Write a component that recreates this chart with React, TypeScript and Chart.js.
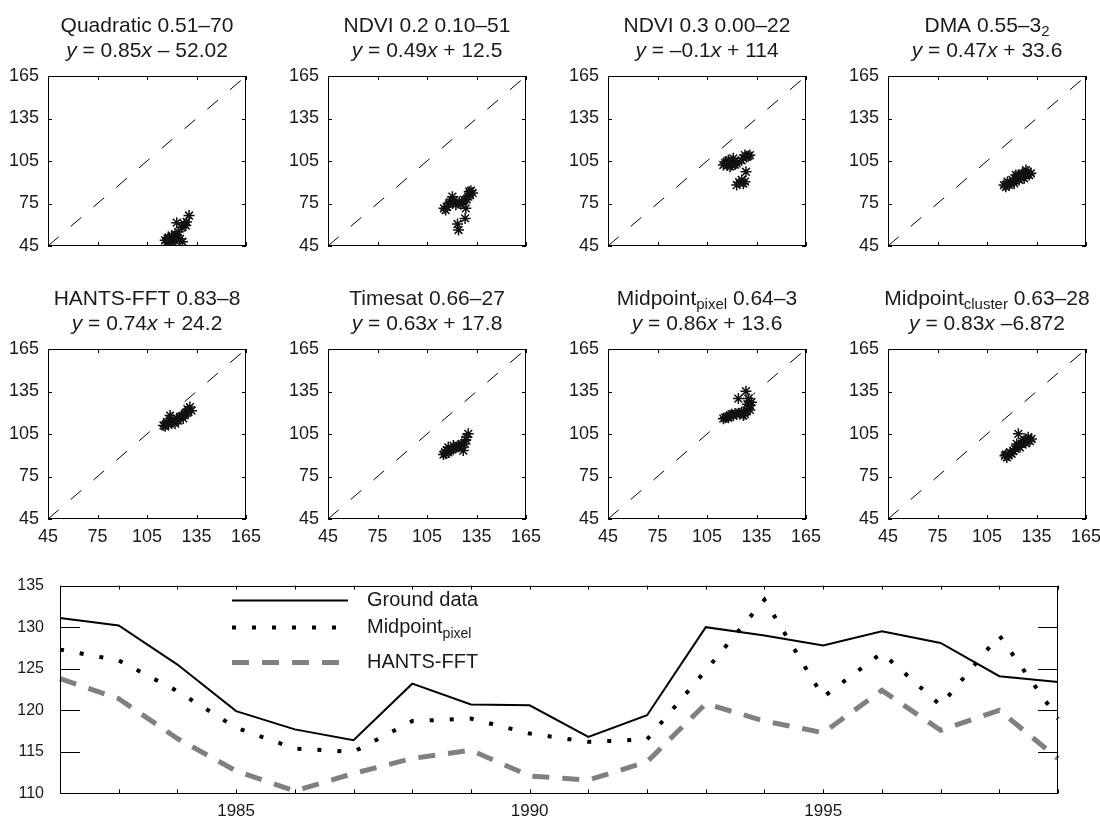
import React, { useEffect, useRef } from 'react';
import { Chart, registerables } from 'chart.js';

Chart.register(...registerables);

const FONT = '"Liberation Sans", Arial, Helvetica, sans-serif';
const TEXT = '#1a1a1a';

// ---------- data ----------
const SCATTER_TICKS = [45, 75, 105, 135, 165];
const ONE_TO_ONE = [45, 165];

const QUADRATIC_PTS = [
  [130.5, 66.5], [129, 62], [128.5, 59.5], [127.5, 60.5], [126, 58], [123, 61.5], [124, 55], [122, 53],
  [121, 51], [120, 52.5], [119, 50], [118, 48.5], [117, 47.5], [116, 49], [120, 48], [122, 49], [126.5, 48], [125, 50],
  [118, 51], [119.5, 49], [121.5, 50.5], [117.5, 50], [123, 50],
];
const NDVI02_PTS = [
  [115.3, 71.6], [116.3, 70.4], [118.4, 75.1], [120.4, 79.8], [122.5, 74], [124.5, 76.3], [125.5, 74.5], [127.5, 77.5],
  [130, 79.8], [130.6, 83.3], [131.6, 84], [132.6, 82.5], [128.5, 71.6], [128.1, 64.5], [123.5, 60.5], [124.1, 56.3],
  [117, 72.5], [119, 76], [121, 77], [126.5, 76], [129, 78], [131, 81],
];
const NDVI03_PTS = [
  [114.9, 102.2], [116.9, 104.5], [118, 105.5], [119, 101], [119.9, 102.2], [120.9, 106.9], [123, 103.4], [126, 105.5],
  [128, 109.2], [129, 107.9], [131, 109.2], [128.6, 97.4], [126, 91.6], [123, 88], [128, 90.4],
  [116, 103.5], [117.5, 102], [118.5, 104], [121.5, 104.5], [122, 102.5], [127, 107], [130, 108.5], [124.5, 90], [127, 89],
];
const DMA_PTS = [
  [115.3, 88], [116.4, 86.8], [117.4, 90.4], [118.4, 88], [120.4, 91.6], [121.5, 89.2], [122.5, 95.1], [123.5, 93.9],
  [124.5, 91.6], [126.5, 96.3], [127.5, 92.7], [128.6, 98.6], [129.6, 97.4], [130.6, 95.1], [131.6, 96.3],
  [119, 89.5], [121, 90.5], [123, 92.5], [125, 94], [126, 93.5], [128, 95.5], [129, 96], [117, 88.5], [124, 95],
];
const HANTS_PTS = [
  [115, 111], [116, 110.5], [117, 113.4], [119, 118], [120, 114.6], [122, 112.3], [123, 116], [125, 117],
  [127, 116], [128, 119.4], [130, 120.5], [131, 124], [132, 121.5],
  [118, 112.5], [121, 113.5], [124, 114.5], [126, 117.5], [129, 120], [118, 111.5], [129.5, 122.5],
];
const TIMESAT_PTS = [
  [115, 90.5], [115.9, 92.1], [117.9, 95.6], [119, 93.3], [121, 96.8], [123, 95.6], [124, 96.8], [126, 98],
  [127, 93.3], [128, 98], [129, 102.7], [130, 105.1],
  [116.5, 91], [118, 92], [120, 94.5], [122, 95], [125, 96.5], [128.5, 101], [117, 93.5],
];
const MID_PIXEL_PTS = [
  [114.9, 115.8], [117, 117], [119, 118.2], [120, 119], [122, 119.4], [126, 120.5], [127, 118], [128, 119],
  [129, 121.7], [131, 125.3], [132, 127.5], [130, 130], [124, 130], [128.6, 135.2],
  [116, 116.5], [118, 116.5], [121, 118], [123, 119], [125, 119.5], [130, 123], [129.5, 126], [131, 122],
];
const MID_CLUSTER_PTS = [
  [115.9, 89.7], [117, 88.5], [119, 92.1], [120, 91], [122, 94.5], [123, 98], [124, 105.1], [125, 95.6],
  [126, 98], [128, 100.4], [130, 102.7], [132, 101.5],
  [116.5, 90.5], [118, 90], [121, 93], [124, 96.5], [127, 99.5], [129, 101], [131, 100], [128.5, 98.5],
];

const YEARS = ['1982', '1983', '1984', '1985', '1986', '1987', '1988', '1989', '1990',
  '1991', '1992', '1993', '1994', '1995', '1996', '1997', '1998', '1999'];
const LABELED_YEARS = ['1985', '1990', '1995'];
const GROUND = [131.1, 130.2, 125.5, 119.9, 117.7, 116.4, 123.2, 120.7, 120.6, 116.8, 119.4, 130.0, 129.0, 127.8, 129.5, 128.1, 124.1, 123.4];
const MID_PIXEL = [127.3, 126.0, 122.3, 117.9, 115.4, 115.0, 118.7, 119.0, 117.2, 116.2, 116.5, 124.8, 133.3, 121.6, 126.9, 120.6, 129.0, 119.0];
const HANTS_FFT = [123.8, 121.4, 116.6, 112.7, 110.3, 112.4, 114.2, 115.2, 112.1, 111.6, 113.8, 120.8, 118.7, 117.3, 122.4, 117.6, 120.0, 114.2];
const LINE_TICKS_Y = [110, 115, 120, 125, 130, 135];

type Seg = { t: string; i?: boolean; s?: boolean };

const PANELS: { title: Seg[][]; pts: number[][] }[] = [
  { title: [[{ t: 'Quadratic 0.51–70' }], [{ t: 'y', i: true }, { t: ' = 0.85' }, { t: 'x', i: true }, { t: ' – 52.02' }]], pts: QUADRATIC_PTS },
  { title: [[{ t: 'NDVI 0.2 0.10–51' }], [{ t: 'y', i: true }, { t: ' = 0.49' }, { t: 'x', i: true }, { t: ' + 12.5' }]], pts: NDVI02_PTS },
  { title: [[{ t: 'NDVI 0.3 0.00–22' }], [{ t: 'y', i: true }, { t: ' = –0.1' }, { t: 'x', i: true }, { t: ' + 114' }]], pts: NDVI03_PTS },
  { title: [[{ t: 'DMA 0.55–3' }, { t: '2', s: true }], [{ t: 'y', i: true }, { t: ' = 0.47' }, { t: 'x', i: true }, { t: ' + 33.6' }]], pts: DMA_PTS },
  { title: [[{ t: 'HANTS-FFT 0.83–8' }], [{ t: 'y', i: true }, { t: ' = 0.74' }, { t: 'x', i: true }, { t: ' + 24.2' }]], pts: HANTS_PTS },
  { title: [[{ t: 'Timesat 0.66–27' }], [{ t: 'y', i: true }, { t: ' = 0.63' }, { t: 'x', i: true }, { t: ' + 17.8' }]], pts: TIMESAT_PTS },
  { title: [[{ t: 'Midpoint' }, { t: 'pixel', s: true }, { t: ' 0.64–3' }], [{ t: 'y', i: true }, { t: ' = 0.86' }, { t: 'x', i: true }, { t: ' + 13.6' }]], pts: MID_PIXEL_PTS },
  { title: [[{ t: 'Midpoint' }, { t: 'cluster', s: true }, { t: ' 0.63–28' }], [{ t: 'y', i: true }, { t: ' = 0.83' }, { t: 'x', i: true }, { t: ' –6.872' }]], pts: MID_CLUSTER_PTS },
];

// ---------- layout ----------
const PLOT_LEFT = [48, 328, 608, 888];
const PLOT_W = 198;
const PLOT_TOP = [76, 349];
const PLOT_H = 170;
const PAD_L = 45, PAD_T = 70, PAD_R = 25, PAD_B = 35;

function drawSegs(ctx: CanvasRenderingContext2D, segs: Seg[], cx: number, cy: number, size: number, subSize: number, subShift: number) {
  const fontFor = (s: Seg) => `${s.i ? 'italic ' : ''}${s.s ? subSize : size}px ${FONT}`;
  let w = 0;
  segs.forEach((s) => { ctx.font = fontFor(s); w += ctx.measureText(s.t).width; });
  let x = cx - w / 2;
  segs.forEach((s) => {
    ctx.font = fontFor(s);
    ctx.fillText(s.t, x, cy + (s.s ? subShift : 0));
    x += ctx.measureText(s.t).width;
  });
}

function makeTitlePlugin(lines: Seg[][]) {
  return {
    id: 'panelTitle',
    afterDraw(chart: any) {
      const { ctx, chartArea } = chart;
      const cx = (chartArea.left + chartArea.right) / 2;
      ctx.save();
      ctx.fillStyle = TEXT;
      ctx.textBaseline = 'middle';
      ctx.textAlign = 'left';
      const offsets = [-50, -25];
      lines.forEach((segs, li) => drawSegs(ctx, segs, cx, chartArea.top + offsets[li], 21, 15, 6));
      ctx.restore();
    },
  };
}

function makeFramePlugin(xLen: number, yLen: number) {
  return {
    id: 'frameTicks',
    afterDraw(chart: any) {
      const { ctx, chartArea: a, scales } = chart;
      ctx.save();
      ctx.strokeStyle = '#000';
      ctx.lineWidth = 1;
      ctx.setLineDash([]);
      ctx.strokeRect(Math.round(a.left) + 0.5, Math.round(a.top) + 0.5, Math.round(a.width) - 1, Math.round(a.height) - 1);
      ctx.beginPath();
      scales.x.ticks.forEach((_t: any, i: number) => {
        const px = Math.round(scales.x.getPixelForTick(i)) + 0.5;
        ctx.moveTo(px, a.bottom); ctx.lineTo(px, a.bottom - xLen);
        ctx.moveTo(px, a.top); ctx.lineTo(px, a.top + xLen);
      });
      scales.y.ticks.forEach((_t: any, i: number) => {
        const py = Math.round(scales.y.getPixelForTick(i)) + 0.5;
        ctx.moveTo(a.left, py); ctx.lineTo(a.left + yLen, py);
        ctx.moveTo(a.right, py); ctx.lineTo(a.right - yLen, py);
      });
      ctx.stroke();
      ctx.restore();
    },
  };
}

function makeLegendPlugin() {
  return {
    id: 'lineLegend',
    afterDatasetsDraw(chart: any) {
      const { ctx, chartArea: a } = chart;
      const x0 = a.left + 172, x1 = a.left + 288, tx = a.left + 307;
      const rows = [
        { y: a.top + 15, color: '#000', width: 2, dash: [] as number[], segs: [{ t: 'Ground data' }] as Seg[] },
        { y: a.top + 42, color: '#000', width: 4, dash: [4, 16], segs: [{ t: 'Midpoint' }, { t: 'pixel', s: true }] as Seg[] },
        { y: a.top + 77, color: '#808080', width: 5, dash: [17, 13], segs: [{ t: 'HANTS-FFT' }] as Seg[] },
      ];
      ctx.save();
      rows.forEach((r) => {
        ctx.beginPath();
        ctx.strokeStyle = r.color;
        ctx.lineWidth = r.width;
        ctx.lineCap = 'butt';
        ctx.setLineDash(r.dash);
        ctx.moveTo(x0, r.y);
        ctx.lineTo(x1, r.y);
        ctx.stroke();
        ctx.setLineDash([]);
        ctx.fillStyle = TEXT;
        ctx.textBaseline = 'middle';
        ctx.textAlign = 'left';
        let w = 0;
        const fontFor = (s: Seg) => `${s.s ? 14 : 20}px ${FONT}`;
        r.segs.forEach((s) => { ctx.font = fontFor(s); w += ctx.measureText(s.t).width; });
        drawSegs(ctx, r.segs, tx + w / 2, r.y, 20, 14, 7);
      });
      ctx.restore();
    },
  };
}

function ScatterPanel({ idx }: { idx: number }) {
  const ref = useRef<HTMLCanvasElement | null>(null);
  const col = idx % 4;
  const row = Math.floor(idx / 4);
  const left = PLOT_LEFT[col] - PAD_L;
  const top = PLOT_TOP[row] - PAD_T;
  const width = PLOT_W + PAD_L + PAD_R;
  const height = PLOT_H + PAD_T + PAD_B;
  useEffect(() => {
    if (!ref.current) return;
    const p = PANELS[idx];
    const tickFont = { size: 18, family: FONT };
    const chart = new Chart(ref.current, {
      type: 'scatter',
      data: {
        datasets: [
          {
            data: p.pts.map(([x, y]) => ({ x, y })),
            pointStyle: 'star',
            pointRadius: 5.5,
            borderColor: '#111',
            backgroundColor: '#111',
            borderWidth: 1.5,
          },
          {
            data: ONE_TO_ONE.map((v) => ({ x: v, y: v })),
            showLine: true,
            borderColor: '#000',
            borderWidth: 1,
            borderDash: [14, 16],
            pointRadius: 0,
            fill: false,
          },
        ],
      },
      options: {
        animation: false,
        responsive: false,
        events: [],
        layout: { padding: { left: 5, top: PAD_T, right: PAD_R, bottom: 0 } },
        plugins: { legend: { display: false }, tooltip: { enabled: false } },
        scales: {
          x: {
            type: 'linear',
            min: 45,
            max: 165,
            afterBuildTicks: (s: any) => { s.ticks = SCATTER_TICKS.map((v) => ({ value: v })); },
            afterFit: (s: any) => { s.height = PAD_B; },
            ticks: { display: row === 1, font: tickFont, color: TEXT, padding: 7, maxRotation: 0 },
            grid: { display: false, drawTicks: false },
            border: { display: false },
          },
          y: {
            type: 'linear',
            min: 45,
            max: 165,
            afterBuildTicks: (s: any) => { s.ticks = SCATTER_TICKS.map((v) => ({ value: v })); },
            afterFit: (s: any) => { s.width = PAD_L - 5; },
            ticks: { font: tickFont, color: TEXT, padding: 9 },
            grid: { display: false, drawTicks: false },
            border: { display: false },
          },
        },
      },
      plugins: [makeFramePlugin(4, 4), makeTitlePlugin(p.title)],
    } as any);
    return () => chart.destroy();
  }, [idx]);
  return (
    <canvas
      ref={ref}
      width={width}
      height={height}
      style={{ position: 'absolute', left, top, width, height }}
    />
  );
}

function LinePanel() {
  const ref = useRef<HTMLCanvasElement | null>(null);
  const left = 0, top = 560, width = 1100, height = 259;
  useEffect(() => {
    if (!ref.current) return;
    const chart = new Chart(ref.current, {
      type: 'line',
      data: {
        labels: YEARS,
        datasets: [
          { label: 'Ground data', data: GROUND, borderColor: '#000', borderWidth: 2, pointRadius: 0, tension: 0, fill: false },
          { label: 'Midpoint pixel', data: MID_PIXEL, borderColor: '#000', borderWidth: 4, borderDash: [4, 16], borderCapStyle: 'butt', pointRadius: 0, tension: 0, fill: false },
          { label: 'HANTS-FFT', data: HANTS_FFT, borderColor: '#808080', borderWidth: 5, borderDash: [17, 13], borderCapStyle: 'butt', pointRadius: 0, tension: 0, fill: false },
        ],
      },
      options: {
        animation: false,
        responsive: false,
        events: [],
        layout: { padding: { left: 10, top: 22, right: 42, bottom: 0 } },
        plugins: { legend: { display: false }, tooltip: { enabled: false } },
        scales: {
          x: {
            type: 'category',
            offset: false,
            afterFit: (s: any) => { s.height = 23; },
            ticks: {
              autoSkip: false,
              maxRotation: 0,
              font: { size: 17, family: FONT },
              color: TEXT,
              padding: 8,
              callback: (_v: any, i: number) => (LABELED_YEARS.includes(YEARS[i]) ? YEARS[i] : ''),
            },
            grid: { display: false, drawTicks: false },
            border: { display: false },
          },
          y: {
            type: 'linear',
            min: 110,
            max: 135,
            afterBuildTicks: (s: any) => { s.ticks = LINE_TICKS_Y.map((v) => ({ value: v })); },
            afterFit: (s: any) => { s.width = 50; },
            ticks: { font: { size: 16, family: FONT }, color: TEXT, padding: 16 },
            grid: { display: false, drawTicks: false },
            border: { display: false },
          },
        },
      },
      plugins: [makeFramePlugin(4, 20), makeLegendPlugin()],
    } as any);
    return () => chart.destroy();
  }, []);
  return (
    <canvas
      ref={ref}
      width={width}
      height={height}
      style={{ position: 'absolute', left, top, width, height }}
    />
  );
}

export default function App() {
  return (
    <div style={{ position: 'absolute', left: 0, top: 0, width: 1100, height: 819, background: '#fff', overflow: 'hidden' }}>
      {PANELS.map((_p, i) => (
        <ScatterPanel key={i} idx={i} />
      ))}
      <LinePanel />
    </div>
  );
}
